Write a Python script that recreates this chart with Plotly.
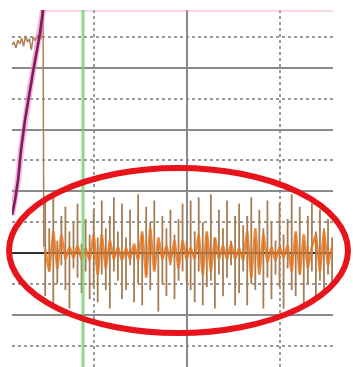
import numpy as np
import plotly.graph_objects as go

# Time axis in divisions (0 = centre major line), amplitude in divisions
T_RANGE = [-1.882, 1.570]
V_RANGE = [-1.848, 3.938]

# Channel A: pre-trigger level near the top of the screen
pre_v = [3.37, 3.42, 3.32, 3.45, 3.39, 3.48, 3.35, 3.52, 3.42, 3.47,
         3.29, 3.50, 3.44, 3.53, 3.45, 3.48]
pre_span = (-1.882, -1.570)

# Channel A: transition down to the baseline
step_t = [-1.560, -1.548, -1.540]
step_v = [3.93, 3.93, 0.10]

# Channel A: per-column peak envelope of the oscillation
osc_hi = [
    0.85, 0.40, 0.90, 0.20, 0.60, 0.75, 0.35, 0.50, 0.80, 0.15, 0.55, 0.30,
    0.70, 0.25, 0.85, 0.40, 0.60, 0.90, 0.35, 0.80, 0.25, 0.70, 0.10, 0.95,
    0.30, 0.75, 0.50, 0.85, 0.15, 0.60, 0.40, 0.70, 0.30, 0.55, 0.80, 0.20,
    0.85, 0.35, 0.90, 0.50, 0.30, 0.95, 0.25, 0.70, 0.40, 0.85, 0.20, 0.60,
    0.80, 0.45, 0.60, 0.90, 0.25, 0.70, 0.40, 0.85, 0.50, 0.20, 0.80, 0.30,
    0.55, 0.95, 0.30, 0.75, 0.20, 0.60, 0.80, 0.35, 0.70, 0.40, 0.55, 0.25,
]
osc_lo = [
    -0.70, -0.30, -0.85, -0.50, -0.20, -0.60, -0.90, -0.25, -0.40, -0.65, -0.30, -0.75,
    -0.55, -0.80, -0.35, -0.60, -0.90, -0.30, -0.45, -0.75, -0.60, -0.20, -0.80, -0.50,
    -0.85, -0.35, -0.60, -0.25, -0.95, -0.50, -0.70, -0.20, -0.75, -0.45, -0.30, -0.50,
    -0.60, -0.80, -0.30, -0.85, -0.55, -0.45, -0.90, -0.35, -0.70, -0.40, -0.20, -0.85,
    -0.65, -0.30, -0.85, -0.50, -0.60, -0.25, -0.90, -0.40, -0.75, -0.35, -0.55, -0.90,
    -0.25, -0.60, -0.70, -0.35, -0.85, -0.50, -0.30, -0.75, -0.45, -0.65, -0.35, -0.55,
]
osc_span = (-1.525, 1.560)

# Channel A: dense core of the oscillation (heavier trace)
core_v = [
    0.05, -0.30, 0.35, -0.25, 0.30, -0.10, 0.10, -0.08, 0.12,
    -0.10, 0.08, -0.12, 0.30, -0.35, 0.30, -0.25, 0.20, -0.10,
    0.10, -0.12, 0.08, -0.10, 0.15, -0.12,
    0.35, -0.40, 0.40, -0.30, 0.25,
    -0.10, 0.12, -0.15, 0.20, -0.25, 0.20, -0.10, 0.08, -0.10,
    0.30, -0.35, 0.35, -0.30, 0.25, -0.10,
    0.12, -0.10, 0.15, -0.10, 0.08, -0.12,
    0.35, -0.40, 0.40, -0.35, 0.30, -0.15,
    0.10, -0.12, 0.10, -0.08, 0.12,
    -0.30, 0.35, -0.35, 0.30, -0.25, 0.10,
    0.30, -0.30, 0.35, -0.20, 0.10,
]

# Channel B: ramp rising off the top of the screen
ramp_t = [-1.882, -1.849, -1.817, -1.785, -1.742, -1.688, -1.656, -1.613, -1.581, -1.548, -1.538]
ramp_v = [0.616, 0.859, 1.183, 1.669, 2.156, 2.674, 2.934, 3.290, 3.566, 3.938, 4.100]

# Channel B clipped at the top of the screen
clip_t = [-1.538, 1.570]
clip_v = [3.925, 3.925]

# Cursor position and highlighted region
cursor_t = -1.118
region_t = (-1.914, 1.731)
region_v = (-1.297, 1.378)

pre_t = np.linspace(*pre_span, len(pre_v))
col_t = np.linspace(*osc_span, len(osc_hi))
core_t = np.linspace(*osc_span, len(core_v))

# vertical strokes, one per display column
stroke_x, stroke_y = [], []
for t, lo, hi in zip(col_t, osc_lo, osc_hi):
    stroke_x += [t, t, None]
    stroke_y += [lo, hi, None]

fig = go.Figure()

fig.add_trace(go.Scatter(x=clip_t, y=clip_v, mode="lines",
                         line=dict(color="rgba(240,150,200,0.45)", width=2),
                         hoverinfo="skip"))
fig.add_trace(go.Scatter(x=list(pre_t) + step_t, y=pre_v + step_v, mode="lines",
                         line=dict(color="#b08050", width=1.5),
                         hoverinfo="skip"))
fig.add_trace(go.Scatter(x=stroke_x, y=stroke_y, mode="lines",
                         line=dict(color="#a67c52", width=1.8),
                         connectgaps=False, hoverinfo="skip"))
fig.add_trace(go.Scatter(x=core_t, y=core_v, mode="lines",
                         line=dict(color="rgba(232,118,30,0.85)", width=2.6),
                         hoverinfo="skip"))
fig.add_trace(go.Scatter(x=ramp_t, y=ramp_v, mode="lines",
                         line=dict(color="rgba(235,120,190,0.55)", width=6),
                         hoverinfo="skip"))
fig.add_trace(go.Scatter(x=ramp_t, y=ramp_v, mode="lines",
                         line=dict(color="#7d1d5c", width=2.6),
                         hoverinfo="skip"))

fig.add_vline(x=cursor_t, line=dict(color="rgba(110,210,110,0.8)", width=3), layer="above")


def paper_x(t):
    return (t - T_RANGE[0]) / (T_RANGE[1] - T_RANGE[0])


def paper_y(v):
    return (v - V_RANGE[0]) / (V_RANGE[1] - V_RANGE[0])


fig.add_shape(type="circle", xref="paper", yref="paper",
              x0=paper_x(region_t[0]), x1=paper_x(region_t[1]),
              y0=paper_y(region_v[0]), y1=paper_y(region_v[1]),
              line=dict(color="#e8141c", width=6), layer="above")

fig.update_layout(
    width=353, height=367,
    margin=dict(l=12, r=20, t=10, b=0),
    paper_bgcolor="white", plot_bgcolor="white",
    showlegend=False,
    xaxis=dict(range=T_RANGE, tick0=0, dtick=2, showgrid=True,
               gridcolor="#8a8a8a", gridwidth=2, zeroline=False,
               showticklabels=False, ticks="", showline=False,
               minor=dict(tick0=0, dtick=1, showgrid=True, griddash="dot",
                          gridcolor="#9a9a9a", gridwidth=2)),
    yaxis=dict(range=V_RANGE, tick0=0, dtick=1, showgrid=True,
               gridcolor="#8a8a8a", gridwidth=2, zeroline=True,
               zerolinecolor="#303030", zerolinewidth=2,
               showticklabels=False, ticks="", showline=False,
               minor=dict(tick0=0, dtick=0.5, showgrid=True, griddash="dot",
                          gridcolor="#9a9a9a", gridwidth=2)),
)

fig.write_html("out.html")
